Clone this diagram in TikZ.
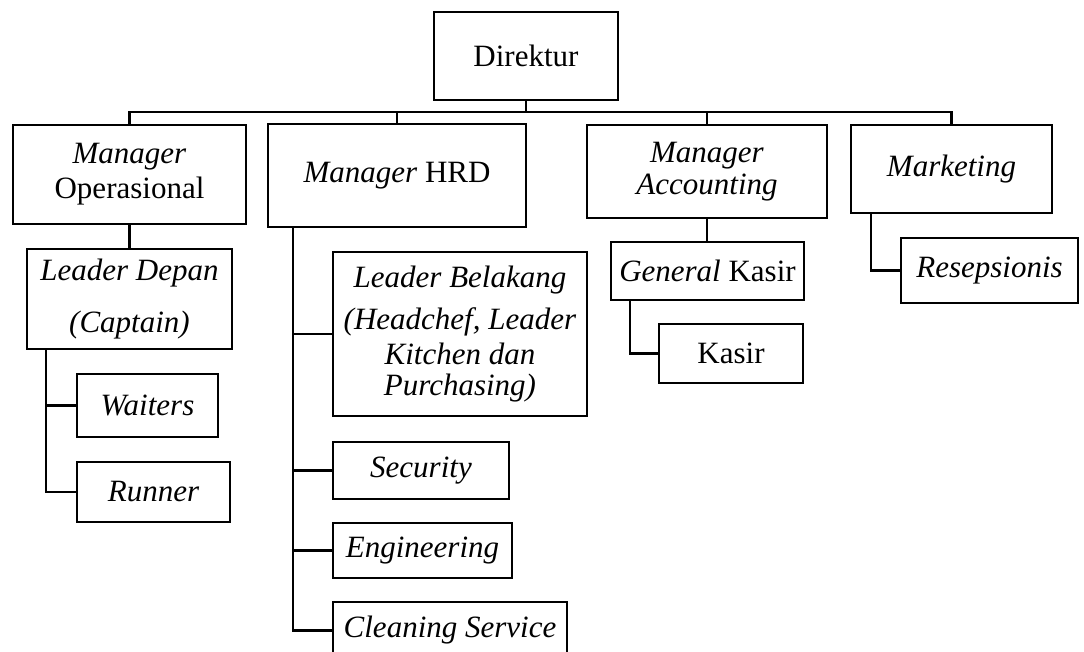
\documentclass[tikz,border=0pt]{standalone}
\usepackage{fontspec}
\setmainfont{Liberation Serif}
\begin{document}
\begin{tikzpicture}[x=1pt,y=-1pt,
  box/.style={draw=black,line width=2.2pt,inner sep=0pt,align=center,
    font=\fontsize{31}{35}\selectfont},
  conn/.style={draw=black,line width=2.2pt}]
\useasboundingbox (0,0) rectangle (1084,652);
% top
\node[box,minimum width=184pt,minimum height=88pt] (dir) at (526,56) {Direktur};
% managers
\node[box,minimum width=233pt,minimum height=99pt] (mop) at (129.5,174.5) {\textit{Manager}\\Operasional};
\node[box,minimum width=258pt,minimum height=103pt] (mhrd) at (397,175.5) {\textit{Manager} HRD};
\node[box,minimum width=240pt,minimum height=93pt] (macc) at (707,171.5) {\textit{Manager}\\[-3pt]\textit{Accounting}};
\node[box,minimum width=201pt,minimum height=88pt] (mkt) at (951.5,169) {\textit{Marketing}};
% operasional branch
\node[box,minimum width=205pt,minimum height=100pt] (ldep) at (129.5,299) {\textit{Leader Depan}\\[17pt]\textit{(Captain)}};
\node[box,minimum width=141pt,minimum height=63pt] (wait) at (147.5,405.5) {\textit{Waiters}};
\node[box,minimum width=153pt,minimum height=60pt] (run) at (153.5,492) {\textit{Runner}};
% HRD branch
\node[box,minimum width=254pt,minimum height=164pt] (lbel) at (460,334) {\textit{Leader Belakang}\\[7pt]\textit{(Headchef, Leader}\\\textit{Kitchen dan}\\[-4pt]\textit{Purchasing)}};
\node[box,minimum width=176pt,minimum height=57pt] (sec) at (421,470.5) {\textit{Security}};
\node[box,minimum width=179pt,minimum height=55pt] (eng) at (422.5,550.5) {\textit{Engineering}};
\node[box,minimum width=234pt,minimum height=57pt] (cln) at (450,630.5) {\textit{Cleaning Service}};
% accounting branch
\node[box,minimum width=193pt,minimum height=58pt] (gk) at (707.5,271) {\textit{General} Kasir};
\node[box,minimum width=144pt,minimum height=59pt] (kas) at (731,353.5) {Kasir};
% marketing branch
\node[box,minimum width=177pt,minimum height=65pt] (res) at (989.5,270.5) {\textit{Resepsionis}};
% bus
\coordinate (bus) at (526,112);
\draw[conn] (dir.south) -- (bus);
\draw[conn] (mop.north) |- (bus) -| (mkt.north);
\draw[conn] (mhrd.north) -- (mhrd.north |- bus);
\draw[conn] (macc.north) -- (macc.north |- bus);
% operasional
\draw[conn] (mop.south) -- (ldep.north);
\coordinate (ldt) at ([xshift=20pt]ldep.south west);
\draw[conn] (ldt) |- (run.west);
\draw[conn] (wait.west) -- (wait.west -| ldt);
% HRD
\coordinate (hrt) at ([xshift=26pt]mhrd.south west);
\draw[conn] (hrt) |- (cln.west);
\draw[conn] (lbel.west) -- (lbel.west -| hrt);
\draw[conn] (sec.west) -- (sec.west -| hrt);
\draw[conn] (eng.west) -- (eng.west -| hrt);
% accounting
\draw[conn] (macc.south) -- (macc.south |- gk.north);
\coordinate (gkt) at ([xshift=20pt]gk.south west);
\draw[conn] (gkt) |- (kas.west);
% marketing
\coordinate (mkt1) at ([xshift=21pt]mkt.south west);
\draw[conn] (mkt1) |- (res.west);
\end{tikzpicture}
\end{document}
